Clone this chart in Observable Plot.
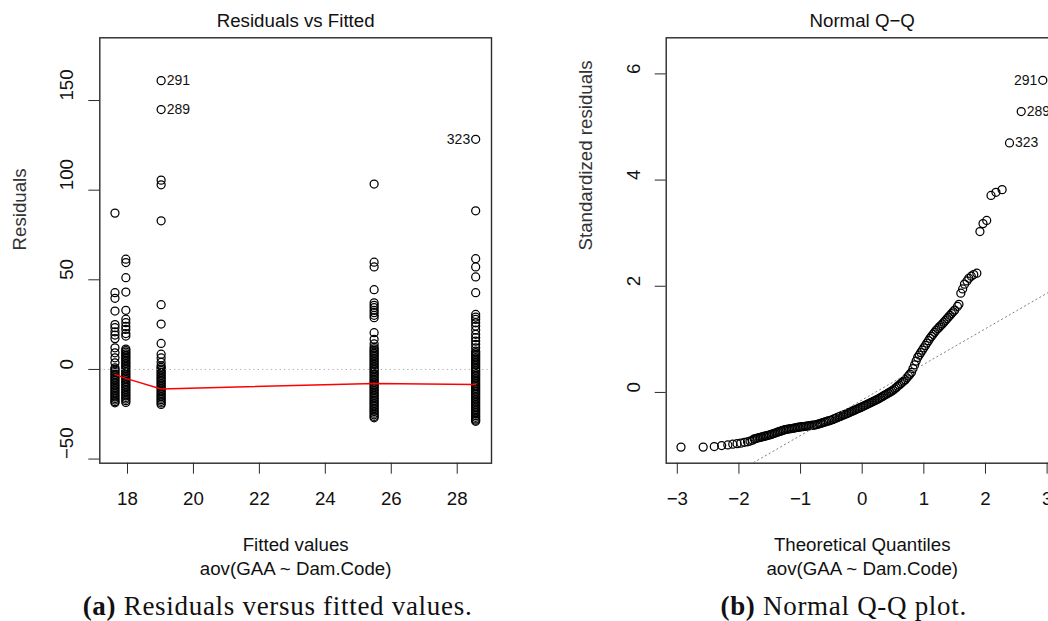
<!DOCTYPE html>
<html>
<head>
<meta charset="utf-8">
<script src="https://cdn.jsdelivr.net/npm/d3@7"></script>
<script src="https://cdn.jsdelivr.net/npm/@observablehq/plot@0.6"></script>
<style>
  body { margin: 0; background: #fff; }
  #fig { position: relative; width: 1048px; height: 621px; overflow: hidden; background: #fff; }
  #fig svg.panel { position: absolute; top: 0; }
  .caption {
    position: absolute; top: 606px; transform: translate(-50%, -50%);
    font-family: "Liberation Serif", "Times New Roman", serif; font-size: 27px;
    letter-spacing: 0.7px; white-space: nowrap; color: #111;
  }
  .caption b { font-weight: bold; }
</style>
</head>
<body>
<div id="fig"></div>
<script>
// ---- Residuals vs Fitted: one-way ANOVA aov(GAA ~ Dam.Code) ----
const fittedValues = [17.62, 17.95, 19.02, 25.48, 28.56];

const damAResiduals = [87.2, 42.8, 39.7, 32.6, 25.0, 23.3, 21.0, 19.2, 17.2, 12.1, 9.3, 6.5, 3.7,
  0.9, 0.0, -0.9, -1.8, -2.7, -3.6, -4.5, -5.4, -6.3, -7.2, -8.1, -9.0, -9.9, -10.8, -11.7, -12.6,
  -13.5, -14.4, -15.3, -16.2, -17.1, -18.0, -18.6];
const damBResiduals = [61.5, 59.6, 51.2, 43.2, 33.0, 28.0, 26.1, 24.0, 22.3, 20.0, 18.6,
  11.4, 10.5, 9.6, 8.7, 7.8, 6.9, 6.0, 5.1, 4.2, 3.3, 2.4, 1.5, 0.6, -0.3, -1.2, -2.1, -3.0, -3.9,
  -4.8, -5.7, -6.6, -7.5, -8.4, -9.3, -10.2, -11.1, -12.0, -12.9, -13.8, -14.7, -15.6, -16.5, -17.4, -18.4];
const damCResiduals = [161.1, 145.0, 105.6, 103.0, 82.9, 36.1, 25.3, 14.5, 8.5, 6.4, 4.0,
  2.0, 1.1, 0.2, -0.7, -1.6, -2.5, -3.4, -4.3, -5.2, -6.1, -7.0, -7.9, -8.8, -9.7, -10.6, -11.5,
  -12.4, -13.3, -14.2, -15.1, -16.0, -16.9, -17.8, -18.7, -19.5];
const damDResiduals = [103.4, 59.8, 57.2, 44.5, 37.2, 35.8, 34.5, 33.0, 31.7, 30.2, 28.9, 20.5, 16.8, 14.2,
  12.4, 11.5, 10.6, 9.7, 8.9, 8.0, 7.1, 6.2, 5.3, 4.4, 3.5, 2.6, 1.7, 0.8, -0.1, -1.0, -1.9, -2.8,
  -3.7, -4.6, -5.5, -6.4, -7.3, -8.2, -9.1, -10.0, -10.9, -11.8, -12.7, -13.6, -14.5, -15.4, -16.3,
  -17.2, -18.1, -19.0, -19.9, -20.8, -21.7, -22.6, -23.5, -24.4, -25.3, -26.2, -27.0];
const damEResiduals = [128.4, 88.5, 61.8, 57.2, 51.6, 42.8, 30.7, 29.2, 27.9, 26.0, 24.2, 22.0, 19.6, 17.7,
  15.8, 14.0, 12.1, 10.2, 9.3, 8.4, 7.5, 6.6, 5.7, 4.8, 3.9, 3.0, 2.1, 1.2, 0.3, -0.6, -1.5, -2.4,
  -3.3, -4.2, -5.1, -6.0, -6.9, -7.8, -8.7, -9.6, -10.5, -11.4, -12.3, -13.2, -14.1, -15.0, -15.9,
  -16.8, -17.7, -18.6, -19.5, -20.4, -21.3, -22.2, -23.1, -24.0, -24.9, -25.8, -26.7, -27.6, -28.3, -28.9];
const residualGroups = [damAResiduals, damBResiduals, damCResiduals, damDResiduals, damEResiduals];

// lowess smooth of the residuals, one value per fitted level
const lowessResiduals = [-2.7, -5.0, -10.9, -7.8, -8.4];

// labelled observations: id, group index, position in that group's list
const residualLabelIds = ["291", "289", "323"];
const residualLabelGroup = [2, 2, 4];
const residualLabelIndex = [0, 1, 0];
const residualLabelSide = ["right", "right", "left"];

const residualXTicks = [18, 20, 22, 24, 26, 28];
const residualYTicks = [-50, 0, 50, 100, 150];

// ---- Normal Q-Q of the standardized residuals ----
const qqTheoretical = [
  -2.94, -2.58, -2.40, -2.28, -2.18, -2.10, -2.03, -1.97, -1.91, -1.86, -1.82, -1.78,
  -1.750, -1.725, -1.700, -1.675, -1.650, -1.625, -1.600, -1.575, -1.550, -1.525,
  -1.500, -1.475, -1.450, -1.425, -1.400, -1.375, -1.350, -1.325, -1.300, -1.275,
  -1.250, -1.225, -1.200, -1.175, -1.150, -1.125, -1.100, -1.075, -1.050, -1.025,
  -1.000, -0.975, -0.950, -0.925, -0.900, -0.875, -0.850, -0.825, -0.800, -0.775,
  -0.750, -0.725, -0.700, -0.675, -0.650, -0.625, -0.600, -0.575, -0.550, -0.525,
  -0.500, -0.475, -0.450, -0.425, -0.400, -0.375, -0.350, -0.325, -0.300, -0.275,
  -0.250, -0.225, -0.200, -0.175, -0.150, -0.125, -0.100, -0.075, -0.050, -0.025,
  0.000, 0.025, 0.050, 0.075, 0.100, 0.125, 0.150, 0.175, 0.200, 0.225,
  0.250, 0.275, 0.300, 0.325, 0.350, 0.375, 0.400, 0.425, 0.450, 0.475,
  0.500, 0.525, 0.550, 0.575, 0.600, 0.625, 0.650, 0.675, 0.700, 0.725,
  0.750, 0.775, 0.800, 0.825, 0.850, 0.875, 0.900, 0.925, 0.950, 0.975,
  1.000, 1.025, 1.050, 1.075, 1.100, 1.125, 1.150, 1.175, 1.200, 1.225,
  1.250, 1.275, 1.300, 1.325, 1.350, 1.375, 1.400, 1.425, 1.450, 1.475, 1.500,
  1.545, 1.57, 1.60, 1.63, 1.66, 1.70, 1.73, 1.77, 1.81, 1.86,
  1.91, 1.96, 2.02, 2.09, 2.17, 2.27, 2.39, 2.58, 2.93
];
const qqStandardized = [
  -1.03, -1.03, -1.02, -1.00, -0.99, -0.975, -0.965, -0.955, -0.94, -0.93, -0.915, -0.90,
  -0.875, -0.868, -0.860, -0.853, -0.845, -0.838, -0.830, -0.823, -0.815, -0.808,
  -0.800, -0.790, -0.780, -0.770, -0.760, -0.750, -0.740, -0.730, -0.720, -0.710,
  -0.700, -0.695, -0.690, -0.685, -0.680, -0.675, -0.670, -0.665, -0.660, -0.655,
  -0.650, -0.646, -0.642, -0.638, -0.634, -0.630, -0.626, -0.622, -0.618, -0.614,
  -0.610, -0.601, -0.592, -0.583, -0.574, -0.565, -0.556, -0.547, -0.538, -0.529,
  -0.520, -0.508, -0.496, -0.484, -0.472, -0.460, -0.448, -0.436, -0.424, -0.412,
  -0.400, -0.387, -0.374, -0.361, -0.348, -0.335, -0.322, -0.309, -0.296, -0.283,
  -0.270, -0.256, -0.242, -0.228, -0.214, -0.200, -0.186, -0.172, -0.158, -0.144,
  -0.130, -0.113, -0.096, -0.079, -0.062, -0.045, -0.028, -0.011, 0.006, 0.023,
  0.040, 0.065, 0.090, 0.115, 0.140, 0.165, 0.190, 0.215, 0.240, 0.275,
  0.310, 0.345, 0.380, 0.450, 0.520, 0.590, 0.660, 0.705, 0.750, 0.795,
  0.840, 0.885, 0.930, 0.975, 1.020, 1.058, 1.095, 1.133, 1.170, 1.200,
  1.230, 1.260, 1.290, 1.323, 1.355, 1.388, 1.420, 1.453, 1.485, 1.518, 1.550,
  1.62, 1.66, 1.87, 1.95, 2.04, 2.10, 2.15, 2.19, 2.22, 2.245,
  3.03, 3.18, 3.24, 3.71, 3.77, 3.82, 4.70, 5.29, 5.88
];
// reference line through the quartiles
const qqLineIntercept = -0.14;
const qqLineSlope = 0.67;

const qqLabelIds = ["291", "289", "323"];
const qqLabelIndex = [qqTheoretical.length - 1, qqTheoretical.length - 2, qqTheoretical.length - 3];
const qqLabelSide = ["left", "right", "right"];

const qqXTicks = [-3, -2, -1, 0, 1, 2, 3];
const qqYTicks = [0, 2, 4, 6];

// ---- shared styling ----
const ink = "#111";
const axisInk = "#2a2a2a";
const sans = '"Liberation Sans", Arial, Helvetica, sans-serif';
const fs = 18.7;
const labelFs = 14;
const frameTop = 37.3, frameBottom = 462.7, svgHeight = 621;
const fmt = d3.format("d");

function diagnosticPanel(o) {
  const svg = Plot.plot({
    width: o.width,
    height: svgHeight,
    marginLeft: o.marginLeft,
    marginRight: o.marginRight,
    marginTop: frameTop,
    marginBottom: svgHeight - frameBottom,
    x: {domain: o.xDomain},
    y: {domain: o.yDomain},
    style: {fontFamily: sans, fontSize: fs + "px", color: ink, background: "none", overflow: "visible"},
    marks: [
      ...o.marks,
      Plot.frame({stroke: axisInk, strokeWidth: 1.4}),
      Plot.axisX({ticks: o.xTicks, tickSize: 11, tickPadding: 18, tickFormat: fmt, label: null,
        stroke: axisInk, fill: ink, fontSize: fs}),
      Plot.axisY({ticks: o.yTicks, tickSize: 11, tickFormat: () => "", label: null, stroke: axisInk}),
      Plot.text(o.yTicks, {y: d => d, text: d => fmt(d), frameAnchor: "left", dx: -32.6, rotate: -90,
        lineAnchor: "middle", fill: ink, fontSize: fs}),
      Plot.text([o.title], {frameAnchor: "top", dy: -16.7, lineAnchor: "middle", fill: ink, fontSize: fs}),
      Plot.text([o.xTitle], {frameAnchor: "bottom", dy: 81.7, lineAnchor: "middle", fill: ink, fontSize: fs}),
      Plot.text([o.subTitle], {frameAnchor: "bottom", dy: 105.6, lineAnchor: "middle", fill: ink, fontSize: fs}),
      Plot.text([o.yTitle], {frameAnchor: "left", dx: -80, rotate: -90, lineAnchor: "middle", fill: "#333", fontSize: fs})
    ]
  });
  svg.classList.add("panel");
  svg.style.left = o.left + "px";
  return svg;
}

// residual table built from the group lists
const residualPoints = fittedValues.flatMap((f, g) =>
  residualGroups[g].map(r => ({fitted: f, residual: r})));
const lowessPoints = fittedValues.map((f, i) => ({fitted: f, residual: lowessResiduals[i]}));
const residualLabels = residualLabelIds.map((id, i) => ({
  id,
  fitted: fittedValues[residualLabelGroup[i]],
  residual: residualGroups[residualLabelGroup[i]][residualLabelIndex[i]],
  side: residualLabelSide[i]
}));

const qqPoints = qqTheoretical.map((q, i) => ({q, s: qqStandardized[i]}));
const qqXDomain = [-3.18, 3.18];
const qqLinePoints = qqXDomain.map(q => ({q, s: qqLineIntercept + qqLineSlope * q}));
const qqLabels = qqLabelIds.map((id, i) => ({
  id, q: qqTheoretical[qqLabelIndex[i]], s: qqStandardized[qqLabelIndex[i]], side: qqLabelSide[i]
}));

const dotStyle = {r: 4, stroke: "#000", strokeWidth: 1.25, fill: "none"};

const left = diagnosticPanel({
  left: 0, width: 524, marginLeft: 99.3, marginRight: 33,
  xDomain: [17.16, 29.04], yDomain: [-52.3, 185],
  xTicks: residualXTicks, yTicks: residualYTicks,
  title: "Residuals vs Fitted", xTitle: "Fitted values", subTitle: "aov(GAA ~ Dam.Code)", yTitle: "Residuals",
  marks: [
    Plot.dot(residualPoints, {x: "fitted", y: "residual", ...dotStyle}),
    Plot.line(lowessPoints, {x: "fitted", y: "residual", stroke: "red", strokeWidth: 1.4}),
    Plot.ruleY([0], {stroke: "#aaa", strokeWidth: 1, strokeDasharray: "1.2,3.2"}),
    Plot.text(residualLabels.filter(d => d.side === "right"), {x: "fitted", y: "residual", text: "id",
      textAnchor: "start", dx: 5.5, fill: ink, fontSize: labelFs}),
    Plot.text(residualLabels.filter(d => d.side === "left"), {x: "fitted", y: "residual", text: "id",
      textAnchor: "end", dx: -5.5, fill: ink, fontSize: labelFs})
  ]
});

const right = diagnosticPanel({
  left: 524, width: 560, marginLeft: 141.7, marginRight: 26.3,
  xDomain: qqXDomain, yDomain: [-1.333, 6.68],
  xTicks: qqXTicks, yTicks: qqYTicks,
  title: "Normal Q\u2212Q", xTitle: "Theoretical Quantiles", subTitle: "aov(GAA ~ Dam.Code)",
  yTitle: "Standardized residuals",
  marks: [
    Plot.dot(qqPoints, {x: "q", y: "s", ...dotStyle}),
    Plot.line(qqLinePoints, {x: "q", y: "s", stroke: "#7f7f7f", strokeWidth: 1, strokeDasharray: "1.2,3.2", clip: true}),
    Plot.text(qqLabels.filter(d => d.side === "right"), {x: "q", y: "s", text: "id",
      textAnchor: "start", dx: 5.5, fill: ink, fontSize: labelFs}),
    Plot.text(qqLabels.filter(d => d.side === "left"), {x: "q", y: "s", text: "id",
      textAnchor: "end", dx: -5.5, fill: ink, fontSize: labelFs})
  ]
});

const fig = document.getElementById("fig");
fig.append(left, right);

const captions = [
  {x: 277.5, tag: "(a)", text: "Residuals versus fitted values."},
  {x: 843.7, tag: "(b)", text: "Normal Q-Q plot."}
];
for (const c of captions) {
  const div = document.createElement("div");
  div.className = "caption";
  div.style.left = c.x + "px";
  div.innerHTML = `<b>${c.tag}</b> ${c.text}`;
  fig.append(div);
}
</script>
</body>
</html>
